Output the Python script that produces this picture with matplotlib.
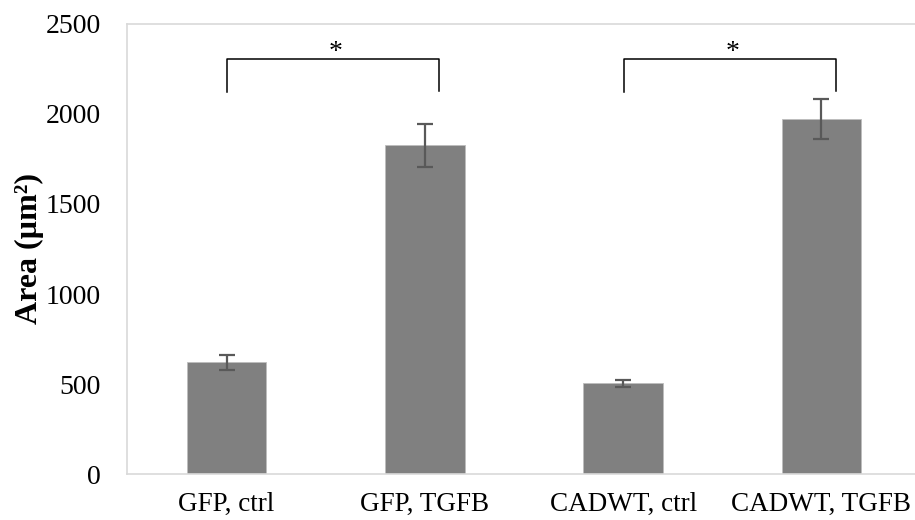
import matplotlib
matplotlib.use("Agg")
import matplotlib.pyplot as plt
import numpy as np

categories = ["GFP, ctrl", "GFP, TGFB", "CADWT, ctrl", "CADWT, TGFB"]
means = [620, 1825, 504, 1972]
errors = [43, 119, 21, 110]
yticks = [0, 500, 1000, 1500, 2000, 2500]
# significance brackets: (left category, right category, label)
brackets = [(0, 1, "*"), (2, 3, "*")]

plt.rcParams['font.family'] = ['Liberation Serif', 'DejaVu Serif']

fig = plt.figure(figsize=(9.15, 5.2), dpi=100)
ax = fig.add_axes([127.4 / 915, 46 / 520, 793.2 / 915, 450 / 520])

x = np.arange(len(categories))
ax.bar(x, means, width=0.40, color="#808080", edgecolor="#bdbdbd", linewidth=0.6, zorder=2)
ax.errorbar(x, means, yerr=errors, fmt="none", ecolor="#595959", elinewidth=1.6,
            capsize=6, capthick=1.6, zorder=3)

ax.set_xlim(-0.5, 3.5)
ax.set_ylim(0, 2500)
ax.set_yticks(yticks)
ax.set_yticklabels([str(t) for t in yticks], fontsize=20)
ax.set_xticks(x)
ax.set_xticklabels(categories, fontsize=19.5)
ax.tick_params(axis="both", length=0)
ax.tick_params(axis="y", pad=19)
ax.tick_params(axis="x", pad=13)
for s in ax.spines.values():
    s.set_color("#d9d9d9")
    s.set_linewidth(1.2)

ax.set_ylabel("Area (µm²)", fontsize=23, fontweight="bold")
ax.yaxis.set_label_coords((44 - 127.4) / 793.2, 0.5)

for i, j, lab in brackets:
    xl = i + 0.004
    xr = j + 0.072
    ax.plot([xl, xl, xr, xr], [2120, 2304, 2304, 2128], color="black", lw=1.1,
            clip_on=False, zorder=4)
    ax.text((i + j) / 2 + 0.05, 2270, lab, ha="center", va="bottom", fontsize=20)

fig.savefig("out.png", dpi=100)
